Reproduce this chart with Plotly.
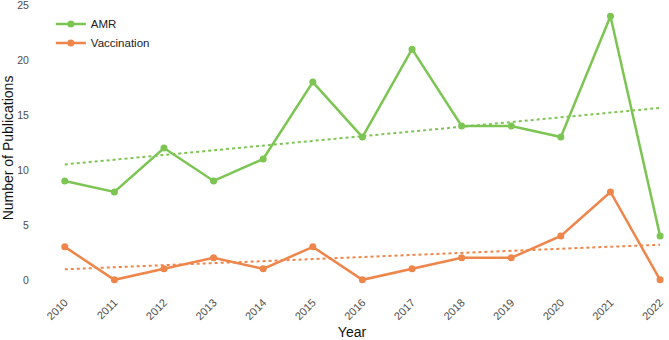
import numpy as np
import plotly.graph_objects as go

years = list(range(2010, 2023))
amr = [9, 8, 12, 9, 11, 18, 13, 21, 14, 14, 13, 24, 4]
vaccination = [3, 0, 1, 2, 1, 3, 0, 1, 2, 2, 4, 8, 0]

green = "#7DC553"
orange = "#EE854A"

def trend(x, y):
    k, b = np.polyfit(x, y, 1)
    return [k * xi + b for xi in x]

fig = go.Figure()
fig.add_trace(go.Scatter(x=years, y=trend(years, amr), mode="lines",
                         line=dict(color=green, width=2, dash="dot"), showlegend=False))
fig.add_trace(go.Scatter(x=years, y=trend(years, vaccination), mode="lines",
                         line=dict(color=orange, width=2, dash="dot"), showlegend=False))
fig.add_trace(go.Scatter(x=years, y=amr, mode="lines+markers", name="AMR",
                         line=dict(color=green, width=2.5), marker=dict(size=7, color=green)))
fig.add_trace(go.Scatter(x=years, y=vaccination, mode="lines+markers", name="Vaccination",
                         line=dict(color=orange, width=2.5), marker=dict(size=7, color=orange)))

fig.update_layout(
    width=669, height=340,
    margin=dict(l=35, r=0, t=3, b=47),
    plot_bgcolor="white", paper_bgcolor="white",
    font=dict(family="Liberation Sans, Arial, sans-serif", size=11, color="#222"),
    legend=dict(x=0.025, y=0.978, xanchor="left", yanchor="top",
                bgcolor="rgba(0,0,0,0)", font=dict(size=11.5, color="#222")),
    xaxis=dict(range=[2009.4, 2022.18], tickmode="array", tickvals=years,
               ticktext=[str(y) for y in years], tickangle=-45,
               showgrid=False, zeroline=False, showline=False,
               tickfont=dict(size=11, color="#4D4D4D"), ticklabeloverflow="allow",
               title=dict(text="Year", font=dict(size=14, color="#111"), standoff=6)),
    yaxis=dict(range=[-1.2, 25.2], tickvals=[0, 5, 10, 15, 20, 25],
               showgrid=False, zeroline=False, showline=False,
               tickfont=dict(size=10.5, color="#4D4D4D"), ticklabeloverflow="allow",
               ticks="outside", ticklen=3, tickcolor="white",
               title=dict(text="Number of Publications", font=dict(size=14, color="#111"), standoff=2)),
)

fig.write_html("out.html")
